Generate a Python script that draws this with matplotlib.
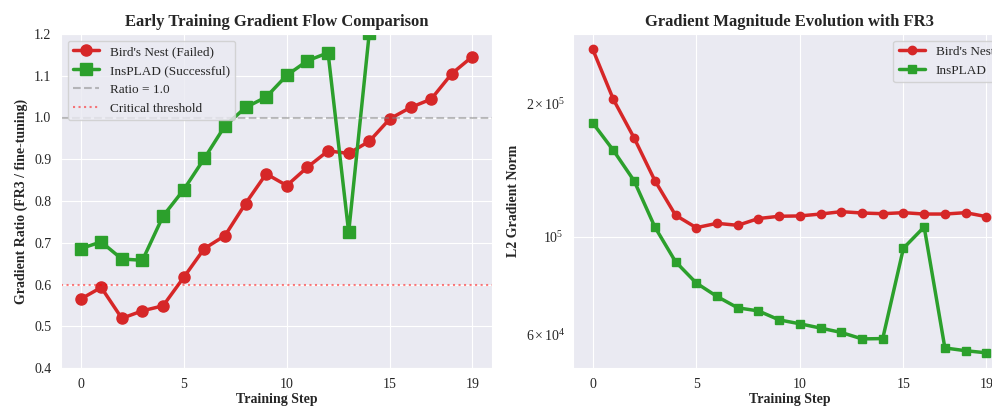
import numpy as np
import matplotlib
matplotlib.use("Agg")
import matplotlib.pyplot as plt
import seaborn as sns

sns.set_style("darkgrid")
plt.rcParams['font.family'] = ['Liberation Serif', 'DejaVu Serif']
plt.rcParams['mathtext.fontset'] = 'stix'

# Gradient ratio (FR3 / fine-tuning)
steps = np.arange(20)
ratio_birds = [0.565, 0.593, 0.519, 0.537, 0.549, 0.617, 0.686, 0.717, 0.794, 0.865,
               0.837, 0.881, 0.920, 0.914, 0.943, 0.997, 1.024, 1.044, 1.105, 1.146]
steps_insplad = np.arange(15)
ratio_insplad = [0.686, 0.702, 0.661, 0.658, 0.764, 0.827, 0.902, 0.980, 1.024, 1.049,
                 1.101, 1.136, 1.155, 0.725, 1.203]

# L2 gradient norm
norm_birds = [2.65e5, 2.04e5, 1.67e5, 1.338e5, 1.117e5, 1.047e5, 1.071e5, 1.060e5, 1.098e5, 1.111e5,
              1.113e5, 1.124e5, 1.138e5, 1.130e5, 1.126e5, 1.132e5, 1.124e5, 1.124e5, 1.132e5, 1.109e5]
norm_insplad = [1.806e5, 1.565e5, 1.336e5, 1.051e5, 0.877e5, 0.785e5, 0.732e5, 0.690e5, 0.679e5, 0.648e5,
                0.635e5, 0.621e5, 0.607e5, 0.587e5, 0.588e5, 0.941e5, 1.051e5, 0.560e5, 0.552e5, 0.546e5]

xticks = [0, 5, 10, 15, 19]
red = '#d62728'
green = '#2ca02c'

fig = plt.figure(figsize=(9.92, 4.09), dpi=100)
ax1 = fig.add_axes([61/992, 41/409, 431/992, 334/409])
ax2 = fig.add_axes([573/992, 41/409, 433/992, 334/409])

# Left panel
ax1.plot(steps, ratio_birds, 'o-', color=red, lw=2.5, ms=8, label="Bird's Nest (Failed)")
ax1.plot(steps_insplad, ratio_insplad, 's-', color=green, lw=2.5, ms=8, label="InsPLAD (Successful)")
ax1.axhline(1.0, color='gray', ls='--', alpha=0.5, label='Ratio = 1.0')
ax1.axhline(0.6, color='red', ls=':', alpha=0.5, label='Critical threshold')
ax1.set_ylim(0.4, 1.2)
ax1.set_xlim(-0.95, 19.95)
ax1.set_xticks(xticks)
ax1.set_xlabel('Training Step', fontweight='bold', fontsize=10, labelpad=2)
ax1.set_ylabel('Gradient Ratio (FR3 / fine-tuning)', fontweight='bold', fontsize=10)
ax1.set_title('Early Training Gradient Flow Comparison', fontweight='bold', fontsize=12)
ax1.tick_params(labelsize=10)
ax1.legend(loc='upper left', fontsize=9.5)

# Right panel
ax2.plot(steps, norm_birds, 'o-', color=red, lw=2.5, ms=6, label="Bird's Nest")
ax2.plot(steps, norm_insplad, 's-', color=green, lw=2.5, ms=6, label='InsPLAD')
ax2.set_yscale('log')
ax2.set_xlim(-0.95, 19.95)
ax2.set_xticks(xticks)
ax2.set_xlabel('Training Step', fontweight='bold', fontsize=10, labelpad=2)
ax2.set_ylabel('L2 Gradient Norm', fontweight='bold', fontsize=10)
ax2.set_title('Gradient Magnitude Evolution with FR3', fontweight='bold', fontsize=12)
ax2.tick_params(labelsize=10)
ax2.legend(loc='upper right', fontsize=9.5)

fig.savefig('out.png', dpi=100)
